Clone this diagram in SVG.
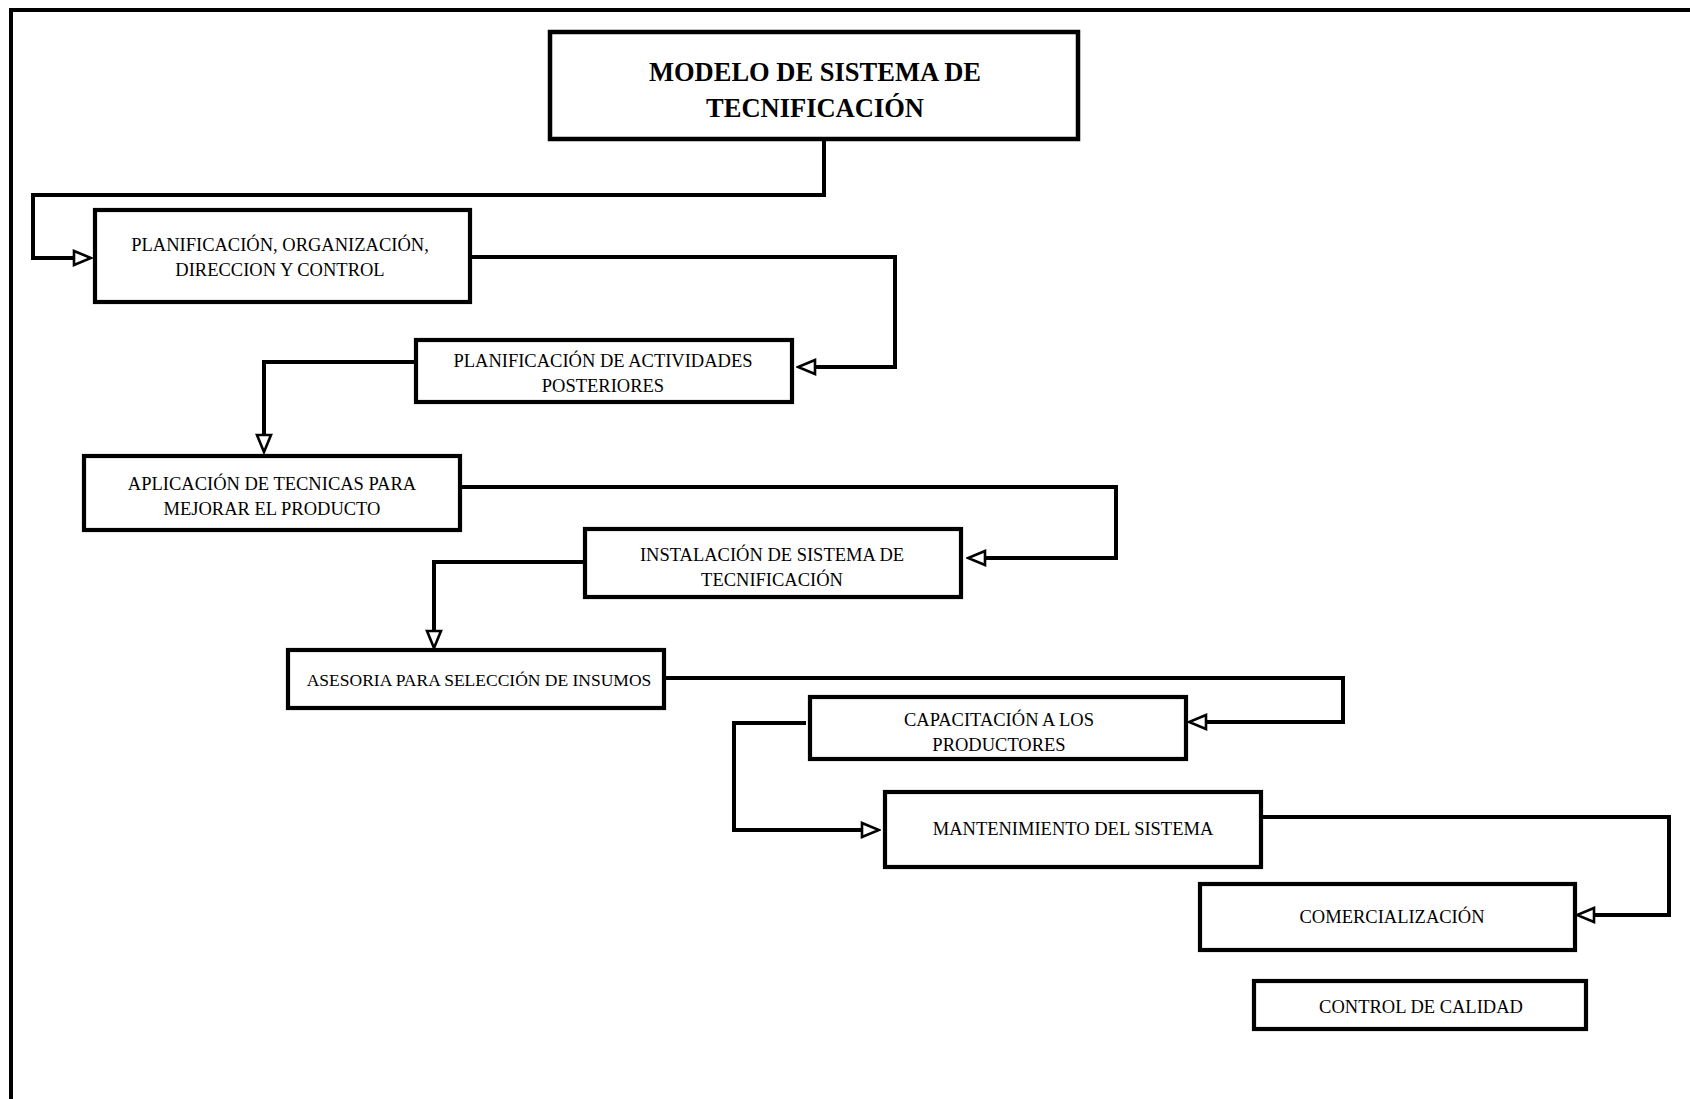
<svg xmlns="http://www.w3.org/2000/svg" width="1690" height="1099" viewBox="0 0 1690 1099">
<style>
.frame{fill:none;stroke:#000;stroke-width:4}
.box{fill:#fff;stroke:#000;stroke-width:4.2}
.tbox{fill:#fff;stroke:#000;stroke-width:4.5}
.conn{fill:none;stroke:#000;stroke-width:4;stroke-linejoin:miter}
.lbl{font-family:"Liberation Serif","Times New Roman",serif;font-size:18.5px;fill:#000;text-anchor:middle}
.sm{font-size:17.5px}
.ttl{font-family:"Liberation Serif","Times New Roman",serif;font-size:26.5px;font-weight:bold;fill:#000;text-anchor:middle}
</style>
<defs>
<marker id="arr" viewBox="-2 -9 21 18" markerUnits="userSpaceOnUse" markerWidth="21" markerHeight="18" refX="0" refY="0" orient="auto">
<path d="M0,-7 L17,0 L0,7 Z" fill="#fff" stroke="#000" stroke-width="2.6" stroke-linejoin="miter"/>
</marker>
</defs>
<rect width="1690" height="1099" fill="#fff"/>
<path class="frame" d="M11,1099 V10 H1690"/>
<g id="connectors">
<path class="conn" d="M824,139 V195 H33 V258 H74" marker-end="url(#arr)"/>
<path class="conn" d="M470,257 H895 V367 H815" marker-end="url(#arr)"/>
<path class="conn" d="M416,362 H264 V435" marker-end="url(#arr)"/>
<path class="conn" d="M460,487 H1116 V558 H985" marker-end="url(#arr)"/>
<path class="conn" d="M585,562 H434 V631" marker-end="url(#arr)"/>
<path class="conn" d="M664,678 H1343 V722 H1206" marker-end="url(#arr)"/>
<path class="conn" d="M806,723 H734 V830 H862" marker-end="url(#arr)"/>
<path class="conn" d="M1261,817 H1669 V915 H1594" marker-end="url(#arr)"/>
</g>
<g id="n-title">
<rect class="tbox" x="550" y="32" width="528" height="107"/>
<text class="ttl" x="815" y="81">MODELO DE SISTEMA DE</text>
<text class="ttl" x="815" y="117">TECNIFICACIÓN</text>
</g>
<g id="n-planificacion">
<rect class="box" x="95" y="210" width="375" height="92"/>
<text class="lbl" x="280" y="251">PLANIFICACIÓN, ORGANIZACIÓN,</text>
<text class="lbl" x="280" y="276">DIRECCION Y CONTROL</text>
</g>
<g id="n-actividades">
<rect class="box" x="416" y="340" width="376" height="62"/>
<text class="lbl" x="603" y="367">PLANIFICACIÓN DE ACTIVIDADES</text>
<text class="lbl" x="603" y="392">POSTERIORES</text>
</g>
<g id="n-aplicacion">
<rect class="box" x="84" y="456" width="376" height="74"/>
<text class="lbl" x="272" y="490">APLICACIÓN DE TECNICAS PARA</text>
<text class="lbl" x="272" y="515">MEJORAR EL PRODUCTO</text>
</g>
<g id="n-instalacion">
<rect class="box" x="585" y="529" width="376" height="68"/>
<text class="lbl" x="772" y="561">INSTALACIÓN DE SISTEMA DE</text>
<text class="lbl" x="772" y="586">TECNIFICACIÓN</text>
</g>
<g id="n-asesoria">
<rect class="box" x="288" y="650" width="376" height="58"/>
<text class="lbl sm" x="479" y="686">ASESORIA PARA SELECCIÓN DE INSUMOS</text>
</g>
<g id="n-capacitacion">
<rect class="box" x="810" y="697" width="376" height="62"/>
<text class="lbl" x="999" y="726">CAPACITACIÓN A LOS</text>
<text class="lbl" x="999" y="751">PRODUCTORES</text>
</g>
<g id="n-mantenimiento">
<rect class="box" x="885" y="792" width="376" height="75"/>
<text class="lbl" x="1073" y="835">MANTENIMIENTO DEL SISTEMA</text>
</g>
<g id="n-comercializacion">
<rect class="box" x="1200" y="884" width="375" height="66"/>
<text class="lbl" x="1392" y="923">COMERCIALIZACIÓN</text>
</g>
<g id="n-control">
<rect class="box" x="1254" y="981" width="332" height="48"/>
<text class="lbl" x="1421" y="1013">CONTROL DE CALIDAD</text>
</g>
</svg>
